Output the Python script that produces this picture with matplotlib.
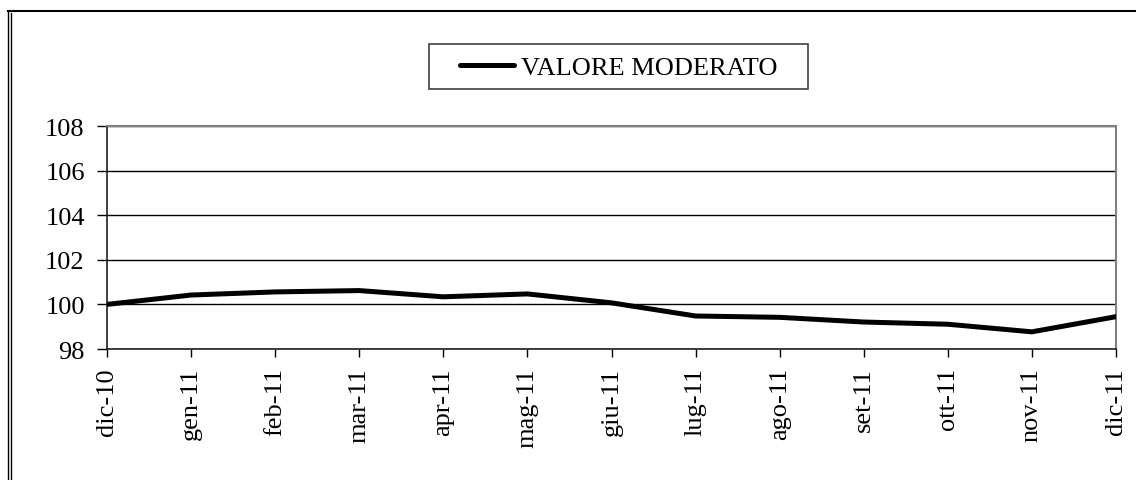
import matplotlib
matplotlib.use("Agg")
import matplotlib.pyplot as plt
from matplotlib.lines import Line2D
from matplotlib.patches import Rectangle

categories = ["dic-10", "gen-11", "feb-11", "mar-11", "apr-11", "mag-11", "giu-11",
              "lug-11", "ago-11", "set-11", "ott-11", "nov-11", "dic-11"]
valore_moderato = [100.0, 100.42, 100.56, 100.62, 100.34, 100.47, 100.07,
                   99.48, 99.42, 99.21, 99.11, 98.77, 99.45]
y_ticks = [98, 100, 102, 104, 106, 108]

plt.rcParams['font.family'] = ['Liberation Serif', 'DejaVu Serif']

W, H = 1136, 481
fig = plt.figure(figsize=(W / 100, H / 100), dpi=100)
ax = fig.add_axes([107 / W, 1 - 350 / H, (1116 - 107) / W, (350 - 127) / H])

x = list(range(len(categories)))
ax.plot(x, valore_moderato, color='black', lw=3.6, solid_joinstyle='round',
        label='VALORE MODERATO', zorder=3)

ax.set_xlim(0, len(categories) - 1)
ax.set_ylim(98, 108)
ax.set_yticks(y_ticks)
ax.set_yticklabels([str(v) for v in y_ticks], fontsize=19)
ax.set_xticks(x)
ax.set_xticklabels(categories, rotation=90, fontsize=19)
ax.grid(axis='y', color='black', lw=1.0, zorder=1)
ax.tick_params(axis='y', direction='out', length=7, width=1, pad=9, colors='black')
ax.tick_params(axis='x', direction='out', length=6, width=1, pad=7, colors='black')
for s in ['top', 'right']:
    ax.spines[s].set_color('#808080')
    ax.spines[s].set_linewidth(1.5)
for s in ['left', 'bottom']:
    ax.spines[s].set_color('#202020')
    ax.spines[s].set_linewidth(1.2)

leg = ax.legend(loc='center left', bbox_to_anchor=(460 / W, 1 - 68 / H),
                bbox_transform=fig.transFigure, fontsize=19, frameon=False,
                handlelength=2.05, handletextpad=0.27, borderpad=0,
                borderaxespad=0)
for h in leg.get_lines():
    h.set_solid_capstyle('round')

# legend frame
fig.add_artist(Rectangle((429 / W, 1 - 90 / H), (808 - 429) / W, 45 / H,
                         transform=fig.transFigure, fill=False,
                         edgecolor='#404040', lw=1.2))

# outer frame
fig.add_artist(Line2D([8 / W, 8 / W], [0, 1 - 12 / H], color='black', lw=1.0,
                      transform=fig.transFigure))
fig.add_artist(Line2D([11 / W, 11 / W], [0, 1 - 14 / H], color='black', lw=1.0,
                      transform=fig.transFigure))
fig.add_artist(Line2D([8 / W, 1], [1 - 12 / H, 1 - 12 / H], color='black', lw=1.5,
                      transform=fig.transFigure))

fig.savefig("out.png", dpi=100)
